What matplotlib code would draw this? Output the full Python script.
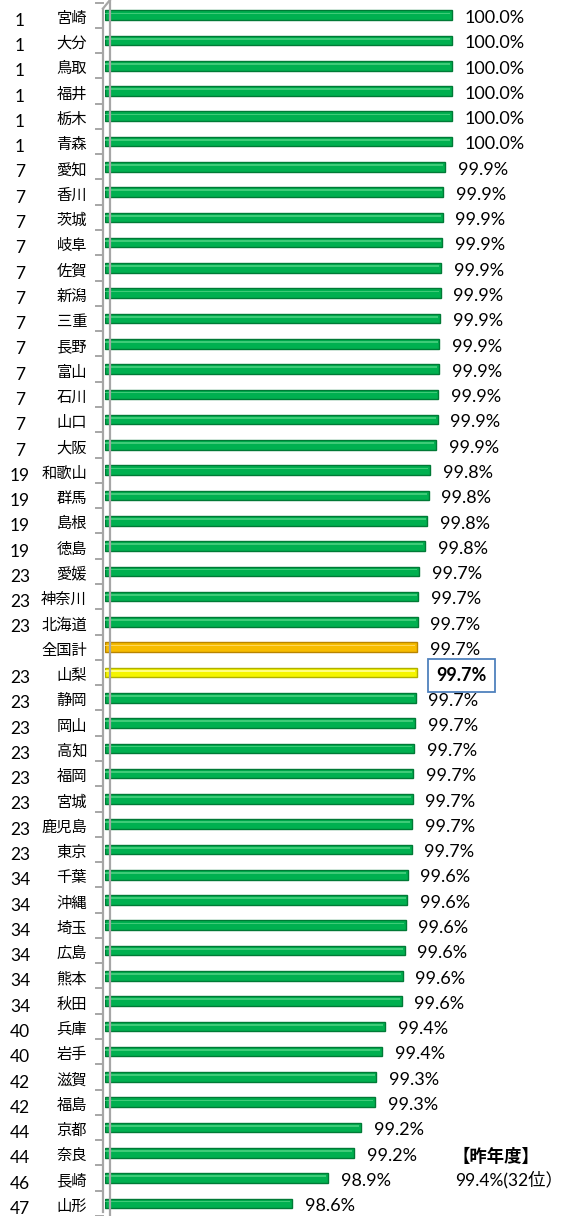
import matplotlib
matplotlib.use('Agg')
import matplotlib.pyplot as plt
import matplotlib.transforms as mtransforms
from matplotlib.lines import Line2D

plt.rcParams['font.family'] = ['Lato', 'Noto Sans CJK JP', 'DejaVu Sans']

# データ
names = ['宮崎', '大分', '鳥取', '福井', '栃木', '青森',
         '愛知', '香川', '茨城', '岐阜', '佐賀', '新潟', '三重', '長野', '富山', '石川', '山口', '大阪',
         '和歌山', '群馬', '島根', '徳島',
         '愛媛', '神奈川', '北海道', '全国計', '山梨', '静岡', '岡山', '高知', '福岡', '宮城', '鹿児島', '東京',
         '千葉', '沖縄', '埼玉', '広島', '熊本', '秋田',
         '兵庫', '岩手', '滋賀', '福島', '京都', '奈良', '長崎', '山形']
ranks = ['1', '1', '1', '1', '1', '1',
         '7', '7', '7', '7', '7', '7', '7', '7', '7', '7', '7', '7',
         '19', '19', '19', '19',
         '23', '23', '23', '', '23', '23', '23', '23', '23', '23', '23', '23',
         '34', '34', '34', '34', '34', '34',
         '40', '40', '42', '42', '44', '44', '46', '47']
values = [100.0, 100.0, 100.0, 100.0, 100.0, 100.0,
          99.94, 99.925, 99.92, 99.916, 99.905, 99.902, 99.896, 99.89, 99.888, 99.88, 99.876, 99.862,
          99.81, 99.80, 99.785, 99.767,
          99.715, 99.709, 99.704, 99.698, 99.697, 99.687, 99.68, 99.672, 99.666, 99.661, 99.655, 99.651,
          99.615, 99.612, 99.598, 99.59, 99.575, 99.565,
          99.42, 99.395, 99.345, 99.334, 99.213, 99.153, 98.928, 98.617]
prev_title = '【昨年度】'
prev_text = '99.4%(32位）'

W, H = 565, 1216
fig = plt.figure(figsize=(W / 100, H / 100), dpi=100)
fig.patch.set_facecolor('white')
ax = fig.add_axes([105 / W, 0, 405 / W, 1])
ax.set_xlim(97, 100.5)
ax.set_ylim(47.5, -0.6)
ax.axis('off')

# x はピクセル(図座標), y はデータ座標
tr = mtransforms.blended_transform_factory(fig.transFigure, ax.transData)

def px(x):
    return x / W

# 棒の色 (本体, 縁, ハイライト)
def bar_colors(n):
    if n == '全国計':
        return '#F7BC00', '#B98400', '#FFD75A'
    if n == '山梨':
        return '#F5F500', '#B0B000', '#FFFF80'
    return '#00B050', '#007A36', '#3ECB78'

ypos = list(range(len(names)))
base = [v - 97 for v in values]
for i, n in enumerate(names):
    c, ec, hl = bar_colors(n)
    ax.barh(ypos[i], base[i], left=97, height=0.38, color=c, edgecolor=ec, linewidth=1.0)
    ax.barh(ypos[i] - 0.07, base[i] - 0.015, left=97.0, height=0.07, color=hl, linewidth=0)

# 3D風の壁(縦軸)
wall = '#A6A6A6'
fig.add_artist(Line2D([px(103), px(103)], [0.003, 0.993], transform=fig.transFigure, color=wall, lw=1.6))
fig.add_artist(Line2D([px(110), px(110)], [0.0, 1.0], transform=fig.transFigure, color=wall, lw=1.6))
fig.add_artist(Line2D([px(103), px(110)], [0.993, 1.0], transform=fig.transFigure, color=wall, lw=1.6))
for k in range(-1, len(names)):
    ax.add_line(Line2D([px(96), px(103)], [k + 0.5, k + 0.5], transform=tr, color=wall, lw=1.4,
                       clip_on=False))

# 左のラベル
for i, (n, r) in enumerate(zip(names, ranks)):
    ax.text(px(87), i + 0.12, n, transform=tr, ha='right', va='center', fontsize=11,
            family=['Noto Sans CJK JP'], color='black')
    ax.text(px(20), i + 0.22, r, transform=tr, ha='center', va='center', fontsize=12.5,
            family=['Lato'], color='black')

# 値ラベル
for i, (n, v) in enumerate(zip(names, values)):
    lab = f'{v:.1f}%'
    if n == '山梨':
        ax.annotate(lab, xy=(v, i), xytext=(14, -2), textcoords='offset points',
                    ha='left', va='center', fontsize=13, fontweight='bold',
                    bbox=dict(boxstyle='square,pad=0.45', fc='white', ec='#4F81BD', lw=1.3))
    else:
        ax.annotate(lab, xy=(v, i), xytext=(9, -2), textcoords='offset points',
                    ha='left', va='center', fontsize=13)

# 昨年度
ax.text(px(452), 45.15, prev_title, transform=tr, ha='left', va='center', fontsize=12.5,
        fontweight='bold', family=['Noto Sans CJK JP'])
ax.text(px(455), 46.06, prev_text, transform=tr, ha='left', va='center', fontsize=12.5,
        family=['Lato', 'Noto Sans CJK JP'])

fig.savefig('out.png', dpi=100, facecolor='white')
